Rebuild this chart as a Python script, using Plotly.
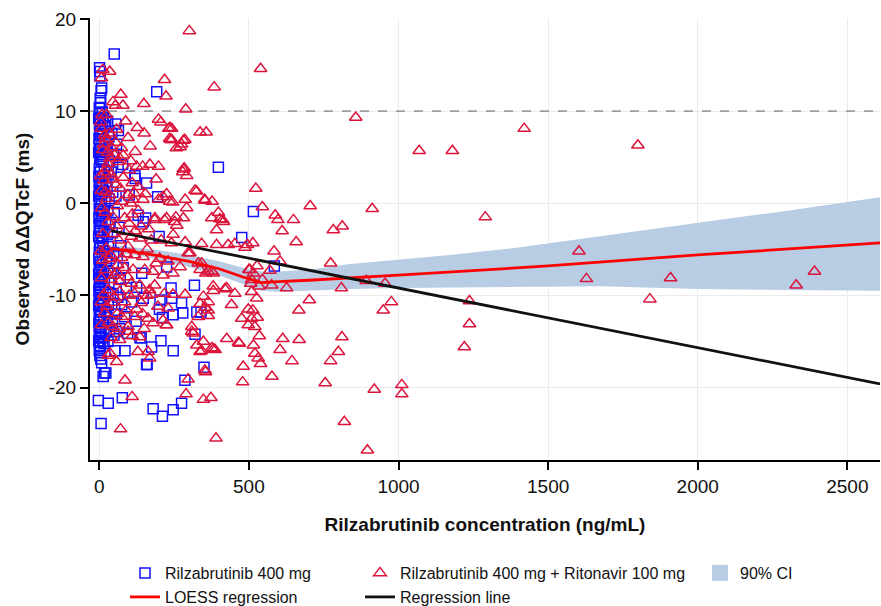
import plotly.graph_objects as go

# ---------------- data ----------------
blue_points = [
    (50, 16.2), (1, 14.7), (3, 14.3), (2, 13.8), (8, 12.5), (6, 12.2), (3, 11.4), (5, 10.9), (10, 9.9),
    (192, 12.1), (398, 3.9), (64, 7.9), (55, 8.6), (78, 4.2), (119, 3.0), (120, 2.7), (158, 2.2),
    (195, 0.7), (100, 0.9), (515, -0.9), (130, -1.3), (155, -1.6), (147, -2.0), (200, -3.6),
    (476, -3.7), (585, -6.8), (225, -6.9), (142, -7.6), (318, -8.9), (240, -9.2), (125, -9.1),
    (147, -10.3), (242, -10.3), (203, -10.5), (108, -10.7), (275, -10.8), (201, -11.5), (279, -11.9),
    (247, -12.1), (326, -11.8), (340, -11.8), (211, -12.4), (123, -12.8), (320, -14.2), (136, -14.6),
    (206, -14.9), (175, -15.6), (247, -16.0), (86, -16.0), (52, -16.0), (2, -16.5), (158, -17.5),
    (350, -17.8), (22, -18.4), (13, -18.8), (286, -19.2), (-3, -21.4), (30, -21.7), (77, -21.1),
    (180, -22.3), (211, -23.1), (247, -22.4), (275, -21.7), (6, -23.9), (1, -13.4), (12, -15.0),
    (18, -18.4), (57, -13.9), (140, -14.6), (160, -17.5),
    (0, 10.4), (2, 9.7), (4, 9.1), (1, 8.6), (6, 8.0), (3, 7.4), (9, 6.9), (0, 6.3), (5, 5.8),
    (2, 5.1), (7, 4.6), (1, 4.0), (4, 3.4), (10, 2.9), (0, 2.3), (6, 1.7), (3, 1.1), (8, 0.5),
    (1, -0.1), (5, -0.7), (2, -1.3), (9, -1.9), (0, -2.5), (4, -3.1), (7, -3.7), (1, -4.3),
    (3, -4.9), (10, -5.5), (0, -6.1), (6, -6.7), (2, -7.3), (8, -7.9), (1, -8.5), (4, -9.1),
    (0, -9.7), (7, -10.3), (3, -10.9), (1, -11.5), (5, -12.1), (2, -12.7), (0, -13.3), (6, -13.9),
    (3, -14.5), (1, -15.1), (4, -15.7),
    (-2, 9.2), (1, 7.8), (-1, 7.0), (2, 6.6), (-2, 5.5), (3, 4.8), (0, 3.7), (-1, 2.9), (2, 2.0),
    (0, 1.4), (-2, 0.8), (2, 0.2), (0, -0.6), (-1, -1.6), (3, -2.2), (1, -2.9), (-2, -3.6),
    (2, -4.6), (0, -5.3), (-1, -5.9), (3, -6.4), (0, -7.0), (-2, -7.7), (2, -8.2), (0, -8.9),
    (-1, -9.4), (3, -9.9), (0, -10.5), (-2, -11.1), (2, -11.8), (0, -12.3), (-1, -12.9),
    (3, -13.6), (0, -14.2), (-2, -14.9), (2, -15.5), (0, -16.0), (5, -16.9), (8, -17.3),
    (14, 9.3), (18, 8.4), (12, 7.6), (16, 6.6), (20, 5.5), (13, 4.5), (17, 3.6), (22, 2.4),
    (15, 1.3), (19, 0.2), (13, -0.9), (21, -2.0), (16, -3.0), (12, -4.1), (18, -5.2), (23, -6.3),
    (14, -7.4), (17, -8.5), (21, -9.6), (13, -10.7), (19, -11.8), (15, -12.9), (22, -14.0), (16, -15.2),
    (11, 8.9), (9, 5.3), (11, 2.0), (9, -1.1), (11, -4.8), (9, -8.2), (11, -11.0), (9, -14.6),
    (28, 8.9), (32, 7.2), (27, 5.9), (35, 4.6), (30, 3.1), (26, 1.8), (33, 0.5), (29, -0.8),
    (36, -2.1), (27, -3.4), (31, -4.7), (34, -6.0), (28, -7.3), (32, -8.6), (37, -9.9), (30, -11.1),
    (26, -12.4), (34, -13.7), (29, -15.0),
    (42, 7.6), (47, 5.3), (40, 3.4), (45, 1.2), (50, -1.0), (43, -3.2), (48, -5.4), (41, -7.6),
    (46, -9.8), (52, -11.6), (44, -13.0), (49, -14.3),
    (58, 6.4), (63, 3.9), (56, 0.8), (66, -2.6), (60, -5.7), (70, -8.2), (62, -10.2), (57, -12.0),
    (68, -13.6), (75, -11.0), (80, -7.0), (85, -12.3), (90, -9.2), (72, -4.6), (95, -14.1),
]

red_points = [
    (1420, 8.1), (1800, 6.3), (1069, 5.7), (1180, 5.7), (1290, -1.5), (1603, -5.2), (1628, -8.2),
    (1909, -8.1), (1840, -10.4), (2329, -8.9), (2390, -7.4), (1237, -10.6), (1237, -13.1), (1220, -15.6),
    (539, 14.6), (857, 9.3), (523, 1.6), (545, -0.4), (588, -1.3), (597, -1.8), (649, -1.8),
    (611, -3.0), (705, -0.3), (782, -2.9), (812, -2.5), (912, -0.6), (513, -4.3), (658, -4.2),
    (584, -5.2), (604, -6.3), (527, -6.8), (773, -6.5), (570, -7.3), (545, -8.3), (506, -8.7),
    (576, -8.9), (534, -9.0), (626, -9.2), (809, -9.2), (892, -8.4), (955, -8.7), (526, -10.3),
    (702, -10.5), (667, -11.6), (976, -10.7), (949, -11.6), (513, -11.6), (528, -12.4), (520, -13.4),
    (535, -14.4), (613, -14.7), (668, -14.8), (811, -14.5), (515, -15.4), (604, -15.9), (799, -16.1),
    (520, -16.3), (531, -16.8), (539, -17.4), (644, -17.1), (773, -17.1), (577, -18.8), (755, -19.5),
    (919, -20.2), (1011, -19.7), (1011, -20.7), (819, -23.7), (896, -26.8), (515, -7.6), (500, -7.2),
    (301, 18.7), (218, 13.4), (384, 12.6), (223, 11.6), (149, 10.8), (289, 10.2), (198, 9.1),
    (206, 8.8), (236, 8.2), (127, 8.2), (337, 7.7), (357, 7.7), (239, 6.9), (286, 6.9), (275, 6.4),
    (270, 6.1), (258, 6.0), (125, 4.0), (145, 4.0), (169, 4.2), (198, 4.0), (284, 3.8), (279, 3.4),
    (292, 3.0), (325, 1.3), (117, 1.1), (154, 1.0), (225, 1.0), (352, 0.4), (377, 0.2), (245, 0.1),
    (198, 0.4), (114, 0.4), (292, -0.5), (398, -1.0), (412, -1.8), (376, -1.6), (281, -1.6),
    (186, -1.6), (225, -1.6), (392, -2.9), (495, -4.5), (320, 1.4), (287, 0.4), (353, 0.3),
    (256, -1.5), (403, -1.7), (415, -2.0), (259, -2.4), (247, -3.4), (287, -4.2), (342, -4.4),
    (392, -4.5), (431, -4.5), (453, -4.4), (487, -4.8), (297, -5.4), (331, -6.5), (337, -7.2),
    (270, -6.9), (364, -7.4), (381, -7.6), (503, -7.2), (509, -8.3), (426, -9.2), (453, -9.8),
    (381, -9.5), (509, -9.6), (348, -10.1), (287, -9.9), (442, -11.0), (498, -11.5), (364, -11.6),
    (331, -12.3), (509, -12.5), (498, -13.2), (309, -13.4), (309, -13.9), (348, -15.0), (326, -15.4),
    (376, -15.7), (387, -15.9), (342, -16.0), (426, -14.7), (468, -15.2), (353, -18.1), (481, -17.7),
    (479, -19.4), (297, -19.1), (290, -20.7), (348, -21.3), (373, -21.1), (390, -25.5), (180, -13.0),
    (225, -13.2), (364, -12.2), (354, -11.3), (364, -10.7), (337, -10.9), (476, -12.5), (420, -9.3),
    (381, -9.0), (303, -5.4), (342, -6.5), (376, -7.4), (356, -7.6), (281, 3.7), (242, 8.1),
    (242, 6.9), (281, 6.8), (355, -18.3), (337, -16.1), (381, -15.8), (314, -14.1), (465, -15.1),
    (58, -17.2), (86, -19.2), (110, -21.0), (71, -24.5), (36, -16.3), (129, -16.1), (96, -13.9),
    (135, -14.5), (163, -16.1), (168, -16.8), (68, -14.8), (40, -14.6), (29, -16.5),
    (35, 14.3), (12, 14.5), (7, 13.6), (72, 11.8), (46, 11.0), (79, 10.6), (54, 10.6), (232, 8.1),
    (24, 9.6), (9, 9.6), (7, 8.1), (35, 7.6), (18, 7.4), (96, 7.1), (235, 7.0), (74, 6.0), (40, 6.1),
    (12, 5.8), (51, 5.2), (68, 4.9), (35, 4.9), (62, 4.5), (29, 4.3), (18, 3.4), (40, 3.1), (7, 1.4),
    (96, 0.9), (146, 0.4), (213, 0.7), (235, 0.2), (46, -1.5), (85, -1.6), (185, -1.8), (218, -1.8),
    (252, -2.0), (12, -3.3), (46, -3.3), (85, -3.1), (107, -3.6), (135, -3.8), (174, -4.0),
    (207, -4.0), (241, -4.3), (23, -4.9), (96, -4.7), (12, -6.2), (62, -6.7), (118, -5.6),
    (146, -5.8), (202, -6.0), (230, -6.3), (85, -7.0), (113, -7.2), (152, -7.2), (179, -7.4),
    (213, -7.8), (246, -7.6), (7, -8.1), (40, -8.3), (68, -8.5), (107, -8.7), (185, -8.9),
    (29, -9.4), (68, -9.6), (118, -9.8), (168, -9.4), (218, -9.8), (246, -9.9), (7, -10.7),
    (46, -10.8), (85, -10.7), (140, -10.8), (196, -11.2), (230, -11.4), (18, -11.9), (74, -12.3),
    (118, -12.3), (163, -12.5), (213, -12.7), (7, -13.2), (46, -13.4), (96, -13.4), (224, -13.2),
    (15, 2.5), (55, 2.0), (80, 2.8), (110, 2.2), (25, 0.5), (60, -0.3), (130, -0.8), (100, -2.2),
    (30, -2.0), (65, -4.0), (140, -2.5), (20, 7.0), (88, 8.9), (58, 8.0), (120, 5.6), (100, 3.6),
    (33, -6.0), (90, -5.5), (50, -7.8), (125, -11.5), (60, -12.0), (30, -13.0), (150, -13.6),
    (100, -10.0), (20, 1.2), (70, 1.6), (45, 2.6), (110, -1.2),
    (5, 8.8), (15, 6.4), (28, 5.5), (5, 3.0), (25, 3.8), (55, 6.6), (80, 5.2), (105, 4.6),
    (8, -0.5), (35, 0.9), (75, 0.2), (105, 0.0), (130, 1.8), (20, -1.0), (55, -2.4), (120, -3.0),
    (5, -5.2), (38, -5.6), (75, -5.9), (160, -5.0), (20, -7.2), (60, -7.5), (95, -8.0), (135, -8.9),
    (15, -9.9), (50, -10.2), (90, -11.6), (160, -10.0), (25, -11.2), (65, -13.6), (110, -14.4),
    (145, -12.0), (175, -9.9), (190, -6.5), (165, -2.8), (190, 2.6), (170, 6.2), (150, 7.6),
]

loess_conc = [40, 120, 200, 300, 400, 480, 540, 600, 700, 1000, 1500, 2000, 2609]
loess_fit = [-4.9, -5.3, -5.7, -6.3, -7.1, -8.0, -8.6, -8.5, -8.35, -7.8, -6.8, -5.6, -4.3]

ci_conc = [40, 120, 200, 300, 400, 480, 540, 600, 700, 838, 1000, 1172, 1400, 1673, 2000, 2300, 2609]
ci_upper = [-4.5, -4.8, -5.1, -5.6, -6.3, -7.0, -7.4, -7.4, -7.2, -6.6, -6.1, -5.6, -4.8, -3.6, -2.2, -0.8, 0.65]
ci_lower = [-5.3, -5.6, -6.1, -6.9, -7.8, -8.8, -9.5, -9.6, -9.5, -9.3, -9.2, -9.1, -9.05, -9.0, -9.3, -9.4, -9.5]

reg_conc = [40, 2609]
reg_fit = [-2.98, -19.6]

ref_conc = [-31, 2609]
ref_level = [10, 10]

x_ticks = [0, 500, 1000, 1500, 2000, 2500]
y_ticks = [-20, -10, 0, 10, 20]
y_tick_text = ["-20", "-10", "0", "10", "20"]

blue_x = [p[0] for p in blue_points]
blue_y = [p[1] for p in blue_points]
red_x = [p[0] for p in red_points]
red_y = [p[1] for p in red_points]

BLUE = "#1010FF"
RED = "#DC143C"
CI_COL = "#B8CCE4"
FONT = "Arial, Liberation Sans, sans-serif"

fig = go.Figure()

fig.add_trace(go.Scatter(
    x=ci_conc + ci_conc[::-1], y=ci_upper + ci_lower[::-1],
    fill="toself", fillcolor=CI_COL, line=dict(width=0), mode="lines",
    hoverinfo="skip", showlegend=False))

fig.add_trace(go.Scatter(x=ref_conc, y=ref_level, mode="lines",
                         line=dict(color="#9E9E9E", width=1.8, dash="dash"),
                         showlegend=False, hoverinfo="skip"))

fig.add_trace(go.Scatter(x=blue_x, y=blue_y, mode="markers", name="Rilzabrutinib 400 mg",
                         marker=dict(symbol="square-open", size=10, color=BLUE,
                                     line=dict(width=1.5, color=BLUE)),
                         legend="legend"))
fig.add_trace(go.Scatter(x=red_x, y=red_y, mode="markers",
                         name="Rilzabrutinib 400 mg + Ritonavir 100 mg",
                         marker=dict(symbol="triangle-up-open", size=11, color=RED,
                                     line=dict(width=1.5, color=RED)),
                         legend="legend2"))

fig.add_trace(go.Scatter(x=loess_conc, y=loess_fit, mode="lines", name="LOESS regression",
                         line=dict(color="#FF0000", width=2.8), legend="legend4"))
fig.add_trace(go.Scatter(x=reg_conc, y=reg_fit, mode="lines", name="Regression line",
                         line=dict(color="#111111", width=2.8), legend="legend5"))

fig.add_trace(go.Scatter(x=[None], y=[None], mode="markers", name="90% CI",
                         marker=dict(symbol="square", size=16, color=CI_COL),
                         legend="legend3"))

def leg(text_px, ypx):
    return dict(x=(text_px - 40) / 881, y=1 - ypx / 606, xref="container", yref="container",
                xanchor="left", yanchor="middle", orientation="h",
                bgcolor="rgba(0,0,0,0)", font=dict(family=FONT, size=16, color="#111"))

fig.update_layout(
    width=881, height=606,
    margin=dict(l=90, r=1, t=18, b=146, autoexpand=False),
    plot_bgcolor="white", paper_bgcolor="white",
    font=dict(family=FONT, color="#111"),
    showlegend=True,
    legend=leg(165, 573),
    legend2=leg(400, 573),
    legend3=leg(740, 573),
    legend4=leg(165, 597),
    legend5=leg(400, 597),
    xaxis=dict(range=[-31, 2609], tickvals=x_ticks, showgrid=True, gridcolor="#EBEBEB",
               gridwidth=1, zeroline=False, showline=True, linecolor="black", linewidth=2,
               ticks="outside", ticklen=8, tickwidth=2, tickcolor="black",
               tickfont=dict(size=19, family=FONT, color="#111"),
               title=dict(text="<b>Rilzabrutinib concentration (ng/mL)</b>",
                          font=dict(size=19, family=FONT, color="#111"), standoff=22)),
    yaxis=dict(range=[-27.85, 20.1], tickvals=y_ticks, ticktext=y_tick_text, showgrid=True,
               gridcolor="#EBEBEB", gridwidth=1, zeroline=False, showline=True,
               linecolor="black", linewidth=2, ticks="outside", ticklen=8, tickwidth=2,
               tickcolor="black", tickfont=dict(size=19, family=FONT, color="#111"),
               title=dict(text="<b>Observed ΔΔQTcF (ms)</b>",
                          font=dict(size=19, family=FONT, color="#111"), standoff=14)),
)

fig.write_html("out.html", config={"displayModeBar": False},
               post_script="document.body.style.margin='0';")
